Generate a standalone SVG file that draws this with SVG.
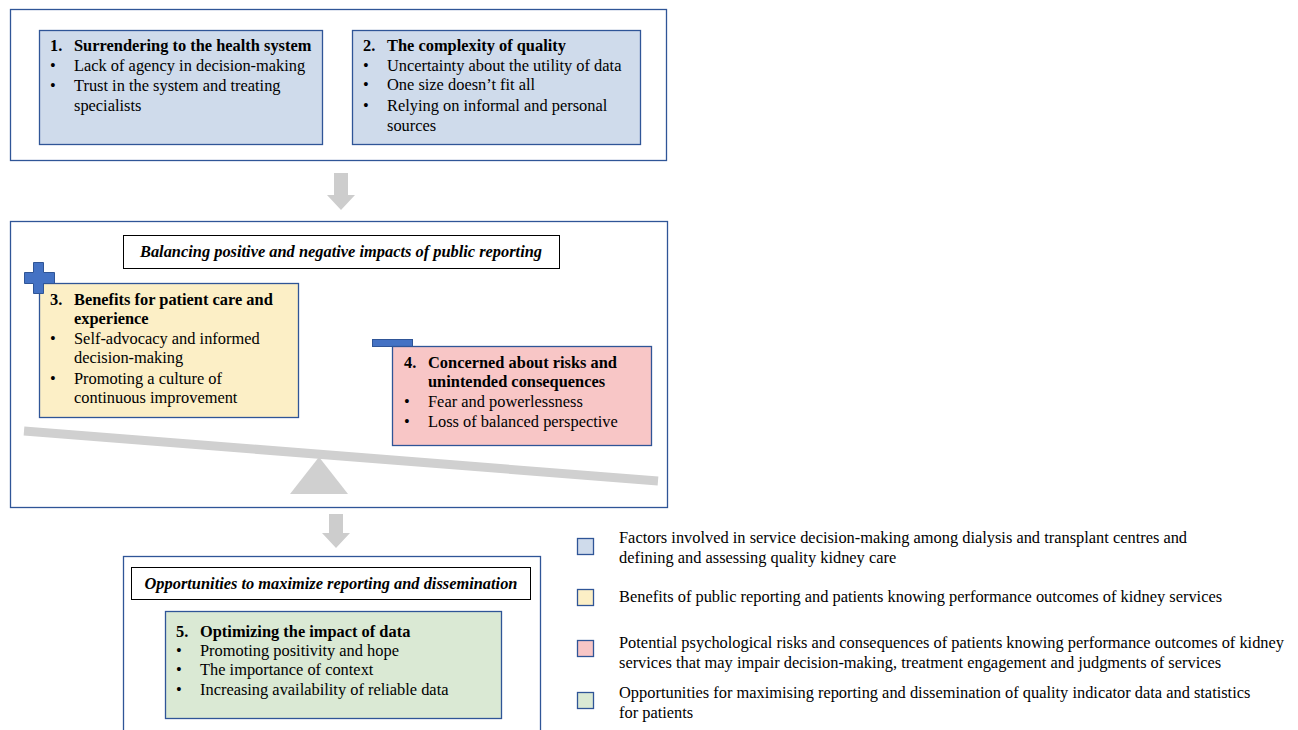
<svg xmlns="http://www.w3.org/2000/svg" width="1298" height="730" viewBox="0 0 1298 730">
<style>
text{font-family:"Liberation Serif","Times New Roman",serif;font-size:16.4px;fill:#000}
.b{font-weight:bold}
.t{font-weight:bold;font-style:italic}
.outer{fill:#fff;stroke:#2f5597;stroke-width:1.3}
.inner{stroke:#2f5597;stroke-width:1.3}
.blue{fill:#cfdbeb}.yel{fill:#fcefc6}.pink{fill:#f8c6c6}.green{fill:#dae9d4}
.tbox{fill:#fff;stroke:#000;stroke-width:1}
.arrow{fill:#cdcdcd}
.sym{fill:#4472c4;stroke:#2f5597;stroke-width:1}
</style>
<rect width="1298" height="730" fill="#fff"/>

<g id="panel-top">
<rect class="outer" x="10.5" y="9.5" width="656" height="151"/>
</g>
<g id="node-1">
<rect class="inner blue" x="39.5" y="30.5" width="283" height="114"/>
<text x="50" y="51" class="b">1.</text><text x="74" y="51" class="b">Surrendering to the health system</text>
<text x="50" y="71">•</text><text x="74" y="71">Lack of agency in decision-making</text>
<text x="50" y="91">•</text><text x="74" y="91">Trust in the system and treating</text>
<text x="74" y="111">specialists</text>
</g>
<g id="node-2">
<rect class="inner blue" x="352.5" y="30.5" width="288" height="114"/>
<text x="363" y="51" class="b">2.</text><text x="387" y="51" class="b">The complexity of quality</text>
<text x="363" y="71">•</text><text x="387" y="71">Uncertainty about the utility of data</text>
<text x="363" y="90">•</text><text x="387" y="90">One size doesn’t fit all</text>
<text x="363" y="111">•</text><text x="387" y="111">Relying on informal and personal</text>
<text x="387" y="131">sources</text>
</g>

<g id="connectors">
<polygon class="arrow" points="334,173 348,173 348,195 355,195 341,210 327,195 334,195"/>
<polygon class="arrow" points="329,514 343,514 343,533 350,533 336,548 322,533 329,533"/>
</g>

<g id="panel-middle">
<rect class="outer" x="10.5" y="221.5" width="657" height="286"/>
</g>
<g id="title-balance">
<rect class="tbox" x="123.5" y="235.5" width="436" height="33"/>
<text x="341" y="257" class="t" text-anchor="middle">Balancing positive and negative impacts of public reporting</text>
</g>
<g id="seesaw">
<line x1="24" y1="431" x2="658" y2="481" stroke="#d0d0d0" stroke-width="9"/>
<polygon points="319,457 348,494 290,494" fill="#d0d0d0"/>
</g>
<g id="node-3">
<rect class="inner yel" x="39.5" y="283.5" width="259" height="134"/>
<text x="50" y="305" class="b">3.</text><text x="74" y="305" class="b">Benefits for patient care and</text>
<text x="74" y="324" class="b">experience</text>
<text x="50" y="344">•</text><text x="74" y="344">Self-advocacy and informed</text>
<text x="74" y="363">decision-making</text>
<text x="50" y="384">•</text><text x="74" y="384">Promoting a culture of</text>
<text x="74" y="403">continuous improvement</text>
</g>
<g id="plus">
<path class="sym" d="M33.5,262.5 h10 v10 h11 v11 h-11 v10 h-10 v-10 h-9 v-11 h9 z"/>
</g>
<g id="minus">
<rect class="sym" x="372.5" y="339.5" width="40" height="7"/>
</g>
<g id="node-4">
<rect class="inner pink" x="392.5" y="346.5" width="259" height="99"/>
<text x="404" y="368" class="b">4.</text><text x="428" y="368" class="b">Concerned about risks and</text>
<text x="428" y="387" class="b">unintended consequences</text>
<text x="404" y="407">•</text><text x="428" y="407">Fear and powerlessness</text>
<text x="404" y="427">•</text><text x="428" y="427">Loss of balanced perspective</text>
</g>

<g id="panel-bottom">
<rect class="outer" x="123.5" y="556.5" width="417" height="180"/>
</g>
<g id="title-opportunities">
<rect class="tbox" x="131.5" y="567.5" width="399" height="32"/>
<text x="331" y="589" class="t" text-anchor="middle">Opportunities to maximize reporting and dissemination</text>
</g>
<g id="node-5">
<rect class="inner green" x="165.5" y="611.5" width="336" height="107"/>
<text x="176" y="637" class="b">5.</text><text x="200" y="637" class="b">Optimizing the impact of data</text>
<text x="176" y="656">•</text><text x="200" y="656">Promoting positivity and hope</text>
<text x="176" y="675">•</text><text x="200" y="675">The importance of context</text>
<text x="176" y="695">•</text><text x="200" y="695">Increasing availability of reliable data</text>
</g>

<g id="legend">
<rect class="inner blue" x="577.5" y="538.5" width="16" height="16"/>
<text x="619" y="543">Factors involved in service decision-making among dialysis and transplant centres and</text>
<text x="619" y="563">defining and assessing quality kidney care</text>
<rect class="inner yel" x="577.5" y="589.5" width="16" height="16"/>
<text x="619" y="602">Benefits of public reporting and patients knowing performance outcomes of kidney services</text>
<rect class="inner pink" x="577.5" y="640.5" width="16" height="16"/>
<text x="619" y="648">Potential psychological risks and consequences of patients knowing performance outcomes of kidney</text>
<text x="619" y="668">services that may impair decision-making, treatment engagement and judgments of services</text>
<rect class="inner green" x="577.5" y="692.5" width="16" height="16"/>
<text x="619" y="698">Opportunities for maximising reporting and dissemination of quality indicator data and statistics</text>
<text x="619" y="718">for patients</text>
</g>
</svg>
